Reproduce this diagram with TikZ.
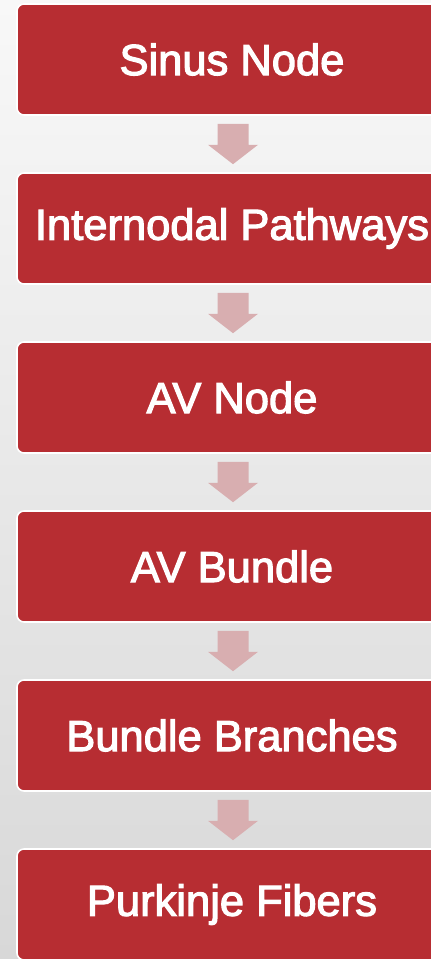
\documentclass[tikz,border=0pt]{standalone}
\usepackage{fontspec}
\setmainfont{Liberation Sans}
\newfontfamily\stagefont{Liberation Sans}[FakeBold=2.6]
\usetikzlibrary{calc}

\definecolor{boxred}{HTML}{B72D32}
\definecolor{arrowpink}{HTML}{D8AEB0}
\definecolor{bgtop}{HTML}{F8F8F8}
\definecolor{bgbottom}{HTML}{D8D8D8}

\tikzset{
  stage/.style={
    rectangle, rounded corners=7pt, draw=white, line width=1.6pt,
    fill=boxred, text=white, inner sep=0pt,
    minimum width=430pt, minimum height=111pt,
    font=\stagefont\fontsize{43.5}{50}\selectfont
  },
  flowarrow/.style={fill=arrowpink, draw=none}
}

% block arrow pointing down from one stage to the next
\newcommand{\downarrowblock}[2]{%
  \path[flowarrow]
    ($(#1.south)+(-14.5,8)$) -- ($(#1.south)+(16.5,8)$) --
    ($(#1.south)+(16.5,29)$) -- ($(#1.south)+(26,29)$) --
    ($(#2.north)+(1,-8)$) --
    ($(#1.south)+(-24,29)$) -- ($(#1.south)+(-14.5,29)$) -- cycle;
}

\begin{document}
\begin{tikzpicture}[x=1pt,y=-1pt]
  \useasboundingbox (0,0) rectangle (431,959);
  \clip (0,0) rectangle (431,959);
  \shade[top color=bgtop, bottom color=bgbottom] (0,0) rectangle (431,959);

  \node[stage] (sinus)      at (232,59.5)  {Sinus Node};
  \node[stage] (internodal) at (232,228.5) {Internodal Pathways};
  \node[stage] (avnode)     at (232,397.5) {AV Node};
  \node[stage] (avbundle)   at (232,566.5) {AV Bundle};
  \node[stage] (branches)   at (232,735.5) {Bundle Branches};
  \node[stage] (purkinje)   at (232,904.5) {Purkinje Fibers};

  \downarrowblock{sinus}{internodal}
  \downarrowblock{internodal}{avnode}
  \downarrowblock{avnode}{avbundle}
  \downarrowblock{avbundle}{branches}
  \downarrowblock{branches}{purkinje}
\end{tikzpicture}
\end{document}
